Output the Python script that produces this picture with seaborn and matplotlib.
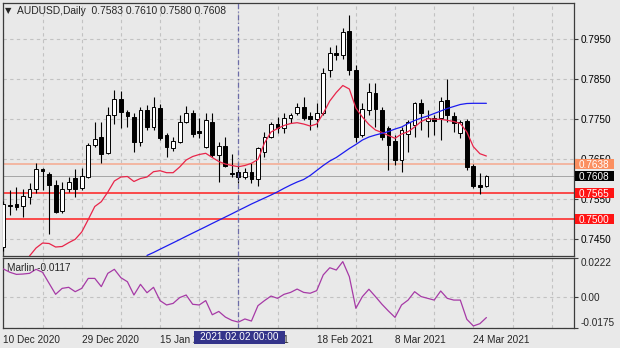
import matplotlib
matplotlib.use("Agg")
import matplotlib.pyplot as plt
from matplotlib.patches import Rectangle
from matplotlib.transforms import blended_transform_factory
import numpy as np
import pandas as pd
import seaborn as sns

# ---- data -------------------------------------------------------------
symbol_title = "AUDUSD,Daily  0.7583 0.7610 0.7580 0.7608"
date_ticks = [0, 12, 24, 36, 48, 60, 72]
date_labels = ["10 Dec 2020", "29 Dec 2020", "15 Jan 2021", "2 Feb 2021",
               "18 Feb 2021", "8 Mar 2021", "24 Mar 2021"]

opens = [0.7430, 0.7535, 0.7538, 0.7532, 0.7556, 0.7574, 0.7625, 0.7612, 0.7585, 0.7521,
         0.7574, 0.7602, 0.7577, 0.7606, 0.7686, 0.7706, 0.7664, 0.7760, 0.7801, 0.7768,
         0.7756, 0.7693, 0.7772, 0.7731, 0.7777, 0.7710, 0.7677, 0.7693, 0.7743, 0.7766,
         0.7720, 0.7681, 0.7743, 0.7660, 0.7683, 0.7615, 0.7618, 0.7604, 0.7618, 0.7599,
         0.7668, 0.7706, 0.7738, 0.7727, 0.7752, 0.7764, 0.7779, 0.7757, 0.7749, 0.7764,
         0.7872, 0.7916, 0.7910, 0.7971, 0.7872, 0.7710, 0.7772, 0.7816, 0.7772, 0.7727,
         0.7696, 0.7648, 0.7712, 0.7735, 0.7789, 0.7744, 0.7752, 0.7752, 0.7797, 0.7757,
         0.7716, 0.7746, 0.7632, 0.7584, 0.7583]
highs = [0.7545, 0.7572, 0.7579, 0.7574, 0.7589, 0.7641, 0.7627, 0.7618, 0.7597, 0.7593,
         0.7606, 0.7624, 0.7627, 0.7689, 0.7743, 0.7743, 0.7779, 0.7822, 0.7821, 0.7773,
         0.7764, 0.7781, 0.7785, 0.7806, 0.7787, 0.7714, 0.7706, 0.7760, 0.7782, 0.7772,
         0.7752, 0.7764, 0.7766, 0.7693, 0.7706, 0.7663, 0.7640, 0.7627, 0.7639, 0.7681,
         0.7718, 0.7743, 0.7756, 0.7764, 0.7766, 0.7789, 0.7806, 0.7768, 0.7789, 0.7877,
         0.7931, 0.7935, 0.7977, 0.8010, 0.7885, 0.7789, 0.7839, 0.7841, 0.7781, 0.7732,
         0.7710, 0.7731, 0.7747, 0.7793, 0.7799, 0.7772, 0.7760, 0.7806, 0.7849, 0.7768,
         0.7747, 0.7749, 0.7637, 0.7614, 0.7610]
lows = [0.7420, 0.7510, 0.7522, 0.7506, 0.7537, 0.7566, 0.7573, 0.7462, 0.7514, 0.7516,
        0.7568, 0.7556, 0.7572, 0.7602, 0.7681, 0.7641, 0.7663, 0.7737, 0.7727, 0.7731,
        0.7668, 0.7682, 0.7722, 0.7722, 0.7697, 0.7656, 0.7671, 0.7691, 0.7739, 0.7704,
        0.7702, 0.7677, 0.7656, 0.7593, 0.7631, 0.7604, 0.7590, 0.7599, 0.7589, 0.7583,
        0.7656, 0.7702, 0.7716, 0.7714, 0.7741, 0.7760, 0.7747, 0.7722, 0.7731, 0.7760,
        0.7856, 0.7897, 0.7899, 0.7860, 0.7693, 0.7706, 0.7760, 0.7731, 0.7697, 0.7622,
        0.7635, 0.7618, 0.7668, 0.7706, 0.7722, 0.7706, 0.7710, 0.7697, 0.7743, 0.7718,
        0.7702, 0.7622, 0.7577, 0.7563, 0.7580]
closes = [0.7537, 0.7533, 0.7531, 0.7557, 0.7574, 0.7624, 0.7621, 0.7585, 0.7518, 0.7574,
          0.7593, 0.7575, 0.7607, 0.7685, 0.7701, 0.7663, 0.7760, 0.7801, 0.7768, 0.7757,
          0.7693, 0.7772, 0.7731, 0.7779, 0.7702, 0.7679, 0.7695, 0.7743, 0.7764, 0.7712,
          0.7715, 0.7747, 0.7660, 0.7683, 0.7633, 0.7613, 0.7604, 0.7618, 0.7599, 0.7677,
          0.7706, 0.7738, 0.7727, 0.7752, 0.7760, 0.7781, 0.7752, 0.7750, 0.7766, 0.7866,
          0.7914, 0.7911, 0.7968, 0.7872, 0.7706, 0.7774, 0.7818, 0.7774, 0.7706, 0.7685,
          0.7648, 0.7722, 0.7743, 0.7789, 0.7764, 0.7752, 0.7744, 0.7796, 0.7760, 0.7739,
          0.7743, 0.7630, 0.7583, 0.7580, 0.7608]

fast_ma_start = 4
fast_ma = [0.74075, 0.74275, 0.74400, 0.74388, 0.74300, 0.74313, 0.74408, 0.74493, 0.74675,
           0.74988, 0.75313, 0.75433, 0.75675, 0.75950, 0.76050, 0.76063, 0.75938, 0.76013,
           0.76050, 0.76183, 0.76208, 0.76158, 0.76158, 0.76300, 0.76475, 0.76563, 0.76613,
           0.76643, 0.76538, 0.76438, 0.76375, 0.76338, 0.76308, 0.76338, 0.76393, 0.76488,
           0.76900, 0.77175, 0.77263, 0.77338, 0.77388, 0.77408, 0.77375, 0.77325, 0.77375,
           0.77638, 0.77950, 0.78163, 0.78338, 0.78250, 0.77775, 0.77550, 0.77363, 0.77225,
           0.77163, 0.77088, 0.77018, 0.77125, 0.77183, 0.77300, 0.77438, 0.77508, 0.77495,
           0.77493, 0.77468, 0.77438, 0.77388, 0.77175, 0.76808, 0.76633, 0.76575]

slow_ma_start = 22
slow_ma = [0.74090, 0.74163, 0.74245, 0.74325, 0.74405, 0.74485, 0.74568, 0.74648, 0.74728,
           0.74808, 0.74890, 0.74970, 0.75050, 0.75130, 0.75213, 0.75293, 0.75375, 0.75450,
           0.75525, 0.75600, 0.75680, 0.75768, 0.75850, 0.75925, 0.75988, 0.76088, 0.76213,
           0.76338, 0.76450, 0.76538, 0.76650, 0.76763, 0.76863, 0.76975, 0.77050, 0.77100,
           0.77142, 0.77188, 0.77250, 0.77300, 0.77388, 0.77463, 0.77525, 0.77575, 0.77638,
           0.77700, 0.77763, 0.77813, 0.77863, 0.77888, 0.77893, 0.77893, 0.77893]

marlin = [0.0161, 0.0142, 0.0130, 0.0132, 0.0136, 0.0159, 0.0142, 0.0079, 0.0016, 0.0050,
          0.0056, 0.0031, 0.0050, 0.0107, 0.0107, 0.0060, 0.0136, 0.0159, 0.0111, 0.0088,
          0.0012, 0.0073, 0.0025, 0.0056, -0.0020, -0.0045, -0.0036, -0.0003, 0.0012, -0.0041,
          -0.0045, -0.0020, -0.0101, -0.0082, -0.0114, -0.0133, -0.0143, -0.0125, -0.0137, -0.0049,
          -0.0020, 0.0006, -0.0007, 0.0016, 0.0027, 0.0046, 0.0027, 0.0022, 0.0037, 0.0127,
          0.0168, 0.0155, 0.0203, 0.0117, -0.0064, 0.0003, 0.0045, 0.0003, -0.0041, -0.0080,
          -0.0116, -0.0045, -0.0017, 0.0031, 0.0003, -0.0007, -0.0017, 0.0035, -0.0007, -0.0017,
          -0.0017, -0.0127, -0.0165, -0.0152, -0.0117]
marlin_label = "Marlin -0.0117"

price_ticks = [0.7450, 0.7550, 0.7650, 0.7750, 0.7850, 0.7950]
marlin_ticks = [0.0222, 0.0, -0.0175]
marlin_tick_labels = ["0.0222", "0.00", "-0.0175"]

level_prices = [0.7638, 0.7565, 0.7500]
level_colors = ["#f6a88e", "#ff1e1e", "#ff1e1e"]
current_price = 0.7608
tag_prices = [0.7638, 0.7608, 0.7565, 0.7500]
tag_colors = ["#fb8f60", "#000000", "#ff1414", "#ff1414"]

cursor_bar = 35.9
cursor_label = "2021.02.02 00:00"

# ---- style ------------------------------------------------------------
sns.set_style("white")
plt.rcParams["font.family"] = ["Liberation Sans", "DejaVu Sans"]
plt.rcParams["font.size"] = 7.2

W, H = 620, 348
BG = "#e9e9e9"
GRID = "#c2c2c2"
SPINE = "#3c3c3c"
fig = plt.figure(figsize=(W / 100, H / 100), dpi=100, facecolor=BG)


def frame(left, top, right, bottom):
    return [left / W, 1 - bottom / H, (right - left) / W, (bottom - top) / H]


ax = fig.add_axes(frame(3, 2.7, 574, 255.7))
axm = fig.add_axes(frame(3, 258.3, 574, 327.7))

x_lo, x_hi = -0.06, 87.42
for a in (ax, axm):
    a.set_facecolor(BG)
    a.set_xlim(x_lo, x_hi)
    for s in a.spines.values():
        s.set_color(SPINE)
        s.set_linewidth(0.9)
    a.set_axisbelow(True)

ax.set_ylim(0.74083, 0.80408)
axm.set_ylim(-0.0175, 0.0222)

# ---- candles ----------------------------------------------------------
bars = np.arange(len(opens))
o = np.array(opens)
c = np.array(closes)
ax.vlines(bars, lows, highs, color="black", lw=0.8, zorder=3)
body_lo = np.minimum(o, c)
body_h = np.maximum(np.abs(c - o), 0.00004)
face = np.where(c >= o, "white", "black")
ax.bar(bars, body_h, bottom=body_lo, width=0.58, color=face,
       edgecolor="black", linewidth=0.7, zorder=4)

# ---- moving averages --------------------------------------------------
fast_df = pd.DataFrame({"bar": np.arange(fast_ma_start, fast_ma_start + len(fast_ma)),
                        "value": fast_ma})
slow_df = pd.DataFrame({"bar": np.arange(slow_ma_start, slow_ma_start + len(slow_ma)),
                        "value": slow_ma})
sns.lineplot(data=fast_df, x="bar", y="value", ax=ax, color="#e8254a",
             lw=0.9, estimator=None, zorder=5)
sns.lineplot(data=slow_df, x="bar", y="value", ax=ax, color="#1c1cf0",
             lw=0.9, estimator=None, zorder=5)

# ---- horizontal levels ------------------------------------------------
for p, col in zip(level_prices, level_colors):
    ax.axhline(p, color=col, lw=1.1, zorder=2)
ax.axhline(current_price, color="#a5a5a5", lw=0.7, zorder=2)

# ---- oscillator -------------------------------------------------------
marlin_df = pd.DataFrame({"bar": bars, "value": marlin})
sns.lineplot(data=marlin_df, x="bar", y="value", ax=axm, color="#a63aa6",
             lw=0.9, estimator=None, zorder=4)

# ---- axes, ticks, grid ------------------------------------------------
grid_kw = dict(color=GRID, linestyle=(0, (3, 3)), linewidth=0.8)
ax.set_xlabel("")
ax.set_ylabel("")
axm.set_xlabel("")
axm.set_ylabel("")

ax.set_xticks(np.arange(0, 88, 6))
ax.tick_params(axis="x", length=0, labelbottom=False)
ax.yaxis.tick_right()
ax.set_yticks(price_ticks)
ax.set_yticklabels([f"{v:.4f}" for v in price_ticks])
ax.tick_params(axis="y", length=3, width=0.8, pad=2, labelsize=7.2,
               color=SPINE, labelcolor="black")
ax.grid(True, **grid_kw)

axm.set_xticks(date_ticks)
axm.set_xticklabels(date_labels, ha="left")
axm.set_xticks(np.arange(0, 88, 6), minor=True)
axm.tick_params(axis="x", which="major", length=3, width=0.8, pad=2,
                labelsize=7.2, color=SPINE)
axm.tick_params(axis="x", which="minor", length=0)
axm.yaxis.tick_right()
axm.set_yticks(marlin_ticks)
axm.set_yticklabels(marlin_tick_labels)
axm.tick_params(axis="y", length=3, width=0.8, pad=2, labelsize=7.2, color=SPINE)
tl = axm.get_yticklabels()
tl[0].set_va("top")
tl[-1].set_va("bottom")
axm.grid(True, which="both", **grid_kw)

# cursor line through both panels
for a in (ax, axm):
    a.axvline(cursor_bar, color="#6c6ca8", lw=0.9, linestyle=(0, (4, 2, 1, 2)), zorder=6)

# ---- texts and price tags ---------------------------------------------
fig.text(5 / W, 1 - 11 / H, "▼", fontsize=6, va="center", ha="left",
         family=["DejaVu Sans"])
fig.text(17 / W, 1 - 11 / H, symbol_title, fontsize=7.4, va="center", ha="left")
fig.text(7 / W, 1 - 268 / H, marlin_label, fontsize=7.2, va="center", ha="left")

tag_trans = blended_transform_factory(fig.transFigure, ax.transData)
for p, col in zip(tag_prices, tag_colors):
    fig.add_artist(Rectangle((575 / W, p - 0.00125), 39 / W, 0.0025,
                             transform=tag_trans, facecolor=col,
                             edgecolor="none", zorder=5))
    fig.text(579 / W, p, f"{p:.4f}", transform=tag_trans, color="white",
             fontsize=7.2, va="center_baseline", ha="left", zorder=6)

fig.add_artist(Rectangle((194 / W, 1 - 344 / H), 91 / W, 13 / H,
                         transform=fig.transFigure, facecolor="#34348a",
                         edgecolor="none", zorder=5))
fig.text(239.5 / W, 1 - 337.5 / H, cursor_label, color="white", fontsize=7.2,
         va="center", ha="center", zorder=6)

fig.savefig("out.png", dpi=100, facecolor=BG)
